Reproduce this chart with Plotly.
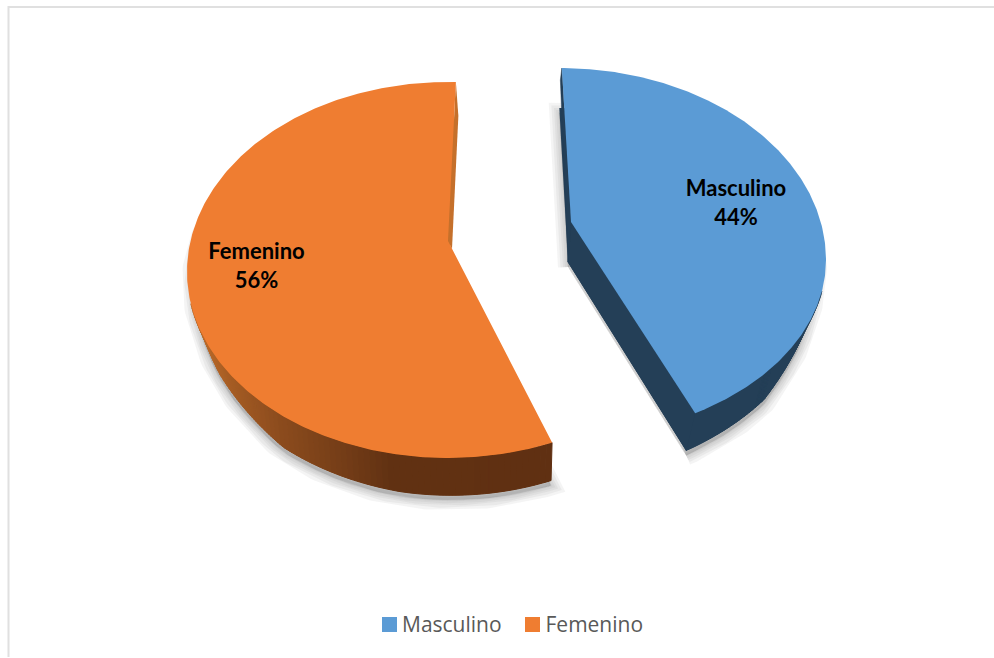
import numpy as np
import plotly.graph_objects as go

categories = ["Masculino", "Femenino"]
values = [44, 56]
top_colors = ["#5B9BD5", "#EF7D31"]
legend_text = "#595959"

# Screen geometry of the tilted 3D slices
masc = dict(cx=560, cy=260, rx=266, up=192, down=178, apex=(571, 222), start=0.4, scale=0.941)
fem = dict(cx=448, cy=272, rx=261, up=190, down=186, apex=(448, 241), start=156.5, scale=1.018)
STEPS = 300


def rim(g, value):
    sweep = value / 100 * 360 * g["scale"]
    deg = np.linspace(g["start"], g["start"] + sweep, STEPS)
    a = np.radians(deg)
    c, s = np.cos(a), np.sin(a)
    x = g["cx"] + g["rx"] * s
    y = g["cy"] - np.where(c > 0, g["up"], g["down"]) * c
    return x, y, deg


def masc_dx(x):
    return np.maximum(-3 - 0.05 * (x - 571), -9)


def masc_dy(x):
    return np.interp(x, [571, 700, 773, 810, 826], [40, 37, 33, 18, 5])


def fem_dx(x):
    return 1 - 0.0166 * (x - 430)


def fem_dy(x):
    return np.interp(x, [188, 215, 280, 400, 560], [5, 18, 33, 37, 38])


def poly(x, y, color, width=0, line=None):
    return go.Scatter(x=list(x), y=list(y), mode="lines", fill="toself",
                      fillcolor=color, line=dict(color=line or color, width=width),
                      hoverinfo="skip", showlegend=False)


def quad_path(x, y, dxf, dyf, idx):
    xs, ys = [], []
    for i in idx:
        j = i + 1
        xs += [x[i], x[j], x[j] + dxf(x[j]), x[i] + dxf(x[i]), x[i], None]
        ys += [y[i], y[j], y[j] + dyf(x[j]), y[i] + dyf(x[i]), y[i], None]
    return xs, ys


fig = go.Figure()
mx, my, mdeg = rim(masc, values[0])
fx, fy, fdeg = rim(fem, values[1])
m_all_x = np.r_[masc["apex"][0], mx]
m_all_y = np.r_[masc["apex"][1], my]
f_all_x = np.r_[fem["apex"][0], fx]
f_all_y = np.r_[fem["apex"][1], fy]

# Soft drop shadow under each slice
for ax, ay, dxf, dyf in ((f_all_x, f_all_y, fem_dx, fem_dy), (m_all_x, m_all_y, masc_dx, masc_dy)):
    bx, by = ax + dxf(ax), ay + dyf(ax) + 5
    for w in (20, 15, 10, 6, 2):
        fig.add_trace(poly(bx, by, "rgba(120,120,120,0.08)", width=w, line="rgba(120,120,120,0.08)"))

# Masculino walls
ax0, ay0 = masc["apex"]
fig.add_trace(poly(m_all_x + masc_dx(m_all_x), m_all_y + masc_dy(m_all_x), "#243F57", width=0))
wx, wy = quad_path(mx, my, masc_dx, masc_dy, np.where(mdeg[:-1] > 100)[0])
fig.add_trace(poly(wx, wy, "#243F57", width=1))
ex = [ax0, mx[-1], mx[-1] + masc_dx(mx[-1]), ax0 + masc_dx(ax0), ax0]
ey = [ay0, my[-1], my[-1] + masc_dy(mx[-1]), ay0 + masc_dy(ax0), ay0]
fig.add_trace(poly(ex, ey, "#243F57", width=1))
sx = [ax0, mx[0], mx[0] - 1.5, ax0 + masc_dx(ax0), ax0]
sy = [ay0, my[0], my[0] + 12, ay0 + masc_dy(ax0), ay0]
fig.add_trace(poly(sx, sy, "#243F57", width=0.5))

# Femenino walls: lit back part, then gradient by horizontal position
grad_x = [200, 230, 280, 340, 390, 560]
grad_r = [186, 165, 140, 118, 98, 96]
grad_g = [106, 92, 76, 62, 50, 48]
grad_b = [42, 36, 30, 24, 19, 18]
fig.add_trace(poly(f_all_x + fem_dx(f_all_x), f_all_y + fem_dy(f_all_x), "#C5702B", width=0))
fax, fay = fem["apex"]
fig.add_trace(poly([fx[-1], fx[-1] + 2.5, fax + 4, fax], [fy[-1], fy[-1] + 34, fay + 8, fay], "#C5702B", width=0))
order = np.where(fdeg[:-1] < 260)[0]
for chunk in np.array_split(order, 100):
    xs, ys = quad_path(fx, fy, fem_dx, fem_dy, chunk)
    mid = fx[chunk].mean()
    col = "rgb(%d,%d,%d)" % (np.interp(mid, grad_x, grad_r), np.interp(mid, grad_x, grad_g), np.interp(mid, grad_x, grad_b))
    fig.add_trace(poly(xs, ys, col, width=1))

# Top surfaces
fig.add_trace(poly(f_all_x, f_all_y, top_colors[1], width=0))
fig.add_trace(poly(m_all_x, m_all_y, top_colors[0], width=0))

# Data labels
label_pos = {"Masculino": (736, 190, 219), "Femenino": (256.5, 253, 282)}
for name, val in zip(categories, values):
    lx, y1, y2 = label_pos[name]
    fig.add_trace(go.Scatter(x=[lx, lx], y=[y1, y2], mode="text", text=[name, f"{val}%"],
                             textposition="middle center",
                             textfont=dict(family="Lato", size=22, color="#000000", weight="bold"),
                             hoverinfo="skip", showlegend=False))

# Legend entries, placed as in the reference
legend_x = {"Masculino": 389.5, "Femenino": 532.5}
legend_text_x = {"Masculino": 402, "Femenino": 545.5}
for name, col in zip(categories, top_colors):
    fig.add_trace(go.Scatter(x=[legend_x[name]], y=[624.5], mode="markers", name=name,
                             marker=dict(symbol="square", size=15, color=col),
                             hoverinfo="skip", showlegend=False))
    fig.add_trace(go.Scatter(x=[legend_text_x[name]], y=[626.5], mode="text", text=[name],
                             textposition="middle right",
                             textfont=dict(family="Open Sans", size=21, color=legend_text),
                             hoverinfo="skip", showlegend=False))

fig.update_layout(
    width=994, height=658, margin=dict(l=0, r=0, t=0, b=0),
    paper_bgcolor="white", plot_bgcolor="white", showlegend=False,
    xaxis=dict(range=[0, 994], visible=False, fixedrange=True),
    yaxis=dict(range=[658, 0], visible=False, fixedrange=True),
    shapes=[
        dict(type="line", xref="x", yref="y", x0=8.5, x1=8.5, y0=6, y1=657, line=dict(color="#E0E0E0", width=2)),
        dict(type="line", xref="x", yref="y", x0=8, x1=994, y0=7, y1=7, line=dict(color="#E0E0E0", width=2)),
    ],
)
fig.write_html("out.html", config={"displayModeBar": False},
               post_script="document.body.style.margin='0';document.body.style.overflow='hidden';")
